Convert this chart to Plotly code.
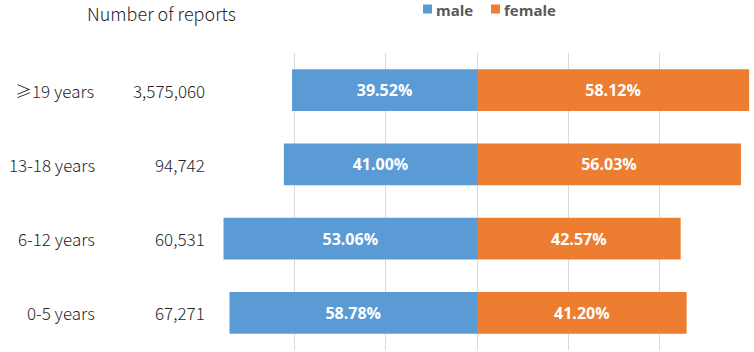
import plotly.graph_objects as go

# ---- data ----
categories = ["≥19 years", "13-18 years", "6-12 years", "0-5 years"]
report_counts = ["3,575,060", "94,742", "60,531", "67,271"]
male_pct = [39.52, 41.00, 53.06, 58.78]
female_pct = [58.12, 56.03, 42.57, 41.20]
# drawn bar lengths as measured on the reference (share of row, %)
male_bar = [40.5, 42.3, 55.5, 54.2]
female_bar = [59.6, 57.8, 44.6, 45.9]
axis_ticks = [-60, -40, -20, 0, 20, 40, 60]

BLUE = "#5B9BD5"
ORANGE = "#ED7D31"
W, H = 754, 352
ML, MR, MT, MB = 203, 3, 53, 2
PW, PH = W - ML - MR, H - MT - MB


def px_x(p):
    return (p - ML) / PW


def px_y(p):
    return 1 - (p - MT) / PH


label_font = dict(family="Noto Sans CJK SC, Noto Sans, sans-serif", size=17, color="#262626", weight=300)
bar_font = dict(family="Open Sans, sans-serif", size=16, color="white", weight="bold")

fig = go.Figure()
fig.add_trace(go.Bar(
    y=categories, x=[-v for v in male_bar], orientation="h", name="male",
    marker=dict(color=BLUE, line=dict(width=0)), width=0.56,
    text=[f"{v:.2f}%" for v in male_pct], textposition="inside",
    insidetextanchor="middle", textfont=bar_font, hoverinfo="skip",
))
fig.add_trace(go.Bar(
    y=categories, x=female_bar, orientation="h", name="female",
    marker=dict(color=ORANGE, line=dict(width=0)), width=0.56,
    text=[f"{v:.2f}%" for v in female_pct], textposition="inside",
    insidetextanchor="middle", textfont=bar_font, hoverinfo="skip",
))

annotations = []
for cat, cnt in zip(categories, report_counts):
    annotations.append(dict(xref="paper", yref="y", x=px_x(97), y=cat, text=cat,
                            showarrow=False, xanchor="right", yanchor="middle", font=label_font))
    annotations.append(dict(xref="paper", yref="y", x=px_x(207), y=cat, text=cnt,
                            showarrow=False, xanchor="right", yanchor="middle", font=label_font))

annotations.append(dict(xref="paper", yref="paper", x=px_x(86), y=px_y(12.5),
                        text="Number of reports", showarrow=False, xanchor="left",
                        yanchor="middle", borderpad=0, font=dict(label_font, size=18)))

legend_font = dict(family="Open Sans, sans-serif", size=15, color="#595959", weight="bold")
shapes = []
for name, col, sx in [("male", BLUE, 423), ("female", ORANGE, 491)]:
    shapes.append(dict(type="rect", xref="paper", yref="paper",
                       x0=px_x(sx), x1=px_x(sx + 9), y0=px_y(13.5), y1=px_y(4.5),
                       fillcolor=col, line=dict(width=0)))
    annotations.append(dict(xref="paper", yref="paper", x=px_x(sx + 11), y=px_y(9.5),
                            text=name, showarrow=False, xanchor="left", yanchor="middle",
                            font=legend_font))

fig.update_layout(
    width=W, height=H,
    margin=dict(l=ML, r=MR, t=MT, b=MB, pad=0),
    barmode="relative",
    showlegend=False,
    plot_bgcolor="white", paper_bgcolor="white",
    xaxis=dict(range=[-60, 60], tickvals=axis_ticks, showticklabels=False,
               showgrid=True, gridcolor="#D9D9D9", gridwidth=1,
               zeroline=False, showline=False, fixedrange=True),
    yaxis=dict(categoryorder="array", categoryarray=categories[::-1],
               range=[-0.5, 3.5], showticklabels=False, showgrid=False,
               zeroline=False, showline=False, fixedrange=True),
    annotations=annotations,
    shapes=shapes,
    uniformtext=dict(mode=False),
)

fig.write_html("out.html", config={"displayModeBar": False},
               post_script="document.body.style.margin='0';document.body.style.overflow='hidden';")
